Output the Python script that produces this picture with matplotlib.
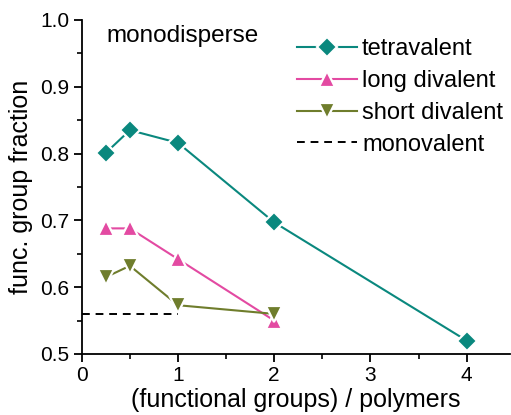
import matplotlib.pyplot as plt
import matplotlib.ticker as mticker

plt.rcParams["font.family"] = ["Liberation Sans", "DejaVu Sans"]

# functional groups per polymer
tetra_x = [0.25, 0.5, 1, 2, 4]
tetra_y = [0.801, 0.835, 0.816, 0.697, 0.520]

long_x = [0.25, 0.5, 1, 2]
long_y = [0.688, 0.688, 0.642, 0.550]

short_x = [0.25, 0.5, 1, 2]
short_y = [0.615, 0.632, 0.573, 0.560]

mono_x = [0, 1]
mono_y = [0.560, 0.560]

TEAL = "#0a887e"
PINK = "#e34aa2"
OLIVE = "#6f7d2c"

fig = plt.figure(figsize=(5.11, 4.15), dpi=100)
ax = fig.add_axes([0.160, 0.147, 0.838, 0.805])

common = dict(lw=1.5, markeredgecolor="white", markeredgewidth=1.6)
ax.plot(tetra_x, tetra_y, color=TEAL, marker="D", ms=10.5, label="tetravalent", **common)
ax.plot(long_x, long_y, color=PINK, marker="^", ms=12, label="long divalent", **common)
ax.plot(short_x, short_y, color=OLIVE, marker="v", ms=12, label="short divalent", **common)
ax.plot(mono_x, mono_y, color="black", ls=(0, (4, 3)), lw=1.4, label="monovalent")

ax.set_xlim(0, 4.45)
ax.set_ylim(0.5, 1.0)
ax.xaxis.set_major_locator(mticker.MultipleLocator(1))
ax.xaxis.set_minor_locator(mticker.MultipleLocator(0.5))
ax.yaxis.set_major_locator(mticker.MultipleLocator(0.1))
ax.yaxis.set_minor_locator(mticker.MultipleLocator(0.05))
ax.yaxis.set_major_formatter(mticker.FormatStrFormatter("%.1f"))

for side in ("top", "right"):
    ax.spines[side].set_visible(False)
for side in ("left", "bottom"):
    ax.spines[side].set_linewidth(1.3)
ax.tick_params(which="major", direction="out", length=6, width=1.3,
               labelsize=15, pad=3)
ax.tick_params(which="minor", direction="out", length=3.5, width=1.2)

ax.set_xlabel("(functional groups) / polymers", fontsize=18, labelpad=2)
ax.set_ylabel("func. group fraction", fontsize=18, labelpad=5)

ax.text(0.26, 0.992, "monodisperse", fontsize=17.5, va="top", ha="left")

ax.legend(loc="upper left", bbox_to_anchor=(0.492, 0.96), frameon=False,
          fontsize=17, handlelength=2.55, handletextpad=0.2,
          labelspacing=0.42, borderaxespad=0.0, borderpad=0.2)

fig.savefig("out.png", dpi=100)
